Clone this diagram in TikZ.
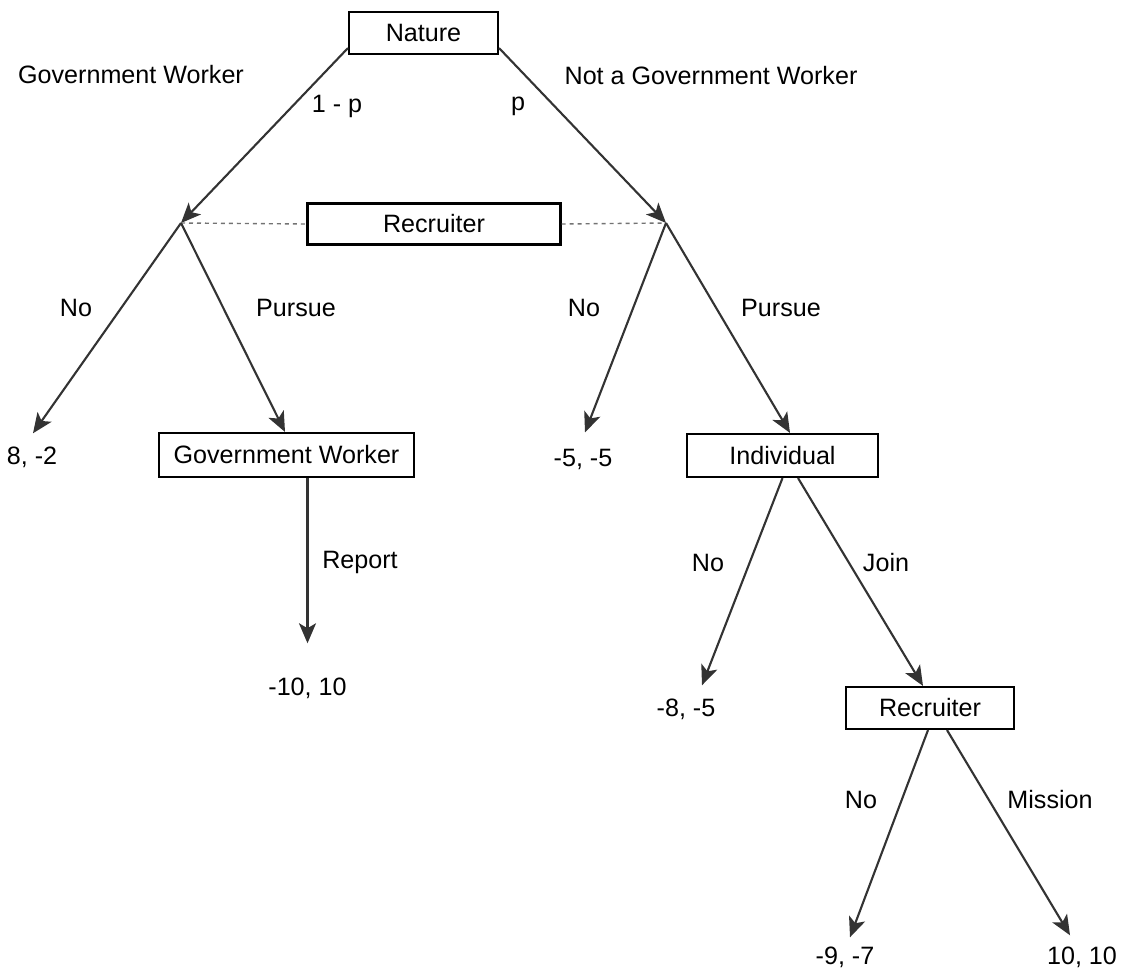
\documentclass[tikz,border=0pt]{standalone}
\usepackage{fontspec}
\setmainfont{Liberation Sans}
\usetikzlibrary{arrows.meta}
\begin{document}
\begin{tikzpicture}[x=0.02cm,y=-0.02cm,
    every node/.style={font=\fontsize{14.3}{17}\selectfont},
    player/.style={draw,line width=1.2pt,inner sep=0pt,minimum height=0.84cm},
    payoff/.style={inner sep=0pt},
    move/.style={-{Stealth[length=0.4cm,width=0.34cm,inset=0.1cm]},line width=1.2pt,draw=black!80},
    infoset/.style={dash pattern=on 0.08cm off 0.08cm,draw=black!55,line width=0.8pt}]
    \useasboundingbox (0,0) rectangle (1121,970);
    % players
    \node[player,minimum width=2.98cm] (nature) at (423.5,33) {Nature};
    \node[player,minimum width=5.06cm,minimum height=0.82cm] (recA) at (434,224) {Recruiter};
    \node[player,minimum width=5.1cm,minimum height=0.88cm] (gwbox) at (286.5,455) {Government Worker};
    \node[player,minimum width=3.82cm,minimum height=0.86cm] (indiv) at (782.5,455.5) {Individual};
    \node[player,minimum width=3.36cm] (recB) at (930,708) {Recruiter};
    \coordinate (nodeL) at (181,223);
    \coordinate (nodeR) at (666,223);
    % payoffs
    \node[payoff] (pay1) at (32,457) {8, -2};
    \node[payoff] (pay2) at (583,459) {-5, -5};
    \node[payoff] (pay3) at (307.5,688) {-10, 10};
    \node[payoff] (pay4) at (686,709) {-8, -5};
    \node[payoff] (pay5) at (845,957) {-9, -7};
    \node[payoff] (pay6) at (1082,957) {10, 10};
    % nature's move
    \draw[move] ([yshift=0.14cm]nature.south west) -- (nodeL);
    \draw[move] ([yshift=0.14cm]nature.south east) -- (nodeR);
    \node at (131,75) {Government Worker};
    \node at (711,76) {Not a Government Worker};
    \node at (337,106) {1 - p};
    \node at (518,106) {p};
    % information set
    \draw[infoset] (nodeL) -- (recA.west);
    \draw[infoset] (recA.east) -- (nodeR);
    % recruiter
    \draw[move] (nodeL) -- ([shift={(1,-13)}]pay1.north);
    \draw[move] (nodeL) -- ([shift={(-1.5,0)}]gwbox.north);
    \draw[move] (nodeR) -- ([shift={(2,-16)}]pay2.north);
    \draw[move] (nodeR) -- ([shift={(7.5,0)}]indiv.north);
    \foreach \px/\txt in {76/No,296/Pursue,584/No,781/Pursue}
        \node at (\px,308) {\txt};
    % government worker
    \draw[move] ([shift={(21,0)}]gwbox.south) -- ([shift={(0,-34)}]pay3.north);
    \node at (360,562) {Report};
    % individual
    \draw[move] (indiv.south) -- ([shift={(16,-13)}]pay4.north);
    \draw[move] ([shift={(15.5,0)}]indiv.south) -- ([shift={(-7,0)}]recB.north);
    \node at (708,563) {No};
    \node at (886,563) {Join};
    % recruiter again
    \draw[move] ([shift={(-2,0)}]recB.south) -- ([shift={(5,-9)}]pay5.north);
    \draw[move] ([shift={(17,0)}]recB.south) -- ([shift={(-12,-11)}]pay6.north);
    \node at (861,800) {No};
    \node at (1050,800) {Mission};
\end{tikzpicture}
\end{document}
